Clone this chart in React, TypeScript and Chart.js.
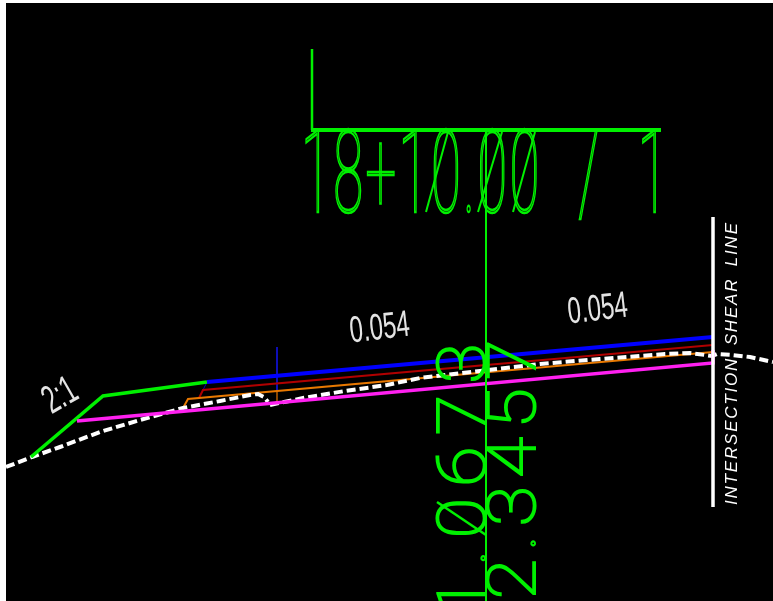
import React, { useEffect, useRef } from "react";
import { Chart, registerables } from "chart.js";

Chart.register(...registerables);

// ---- texts ----
const stationText = "18+10.00 / 1";
const elevationLeftText = "1.0673";
const elevationRightText = "2.3457";
const slopeText = "0.054";
const sideSlopeText = "2:1";
const shearText = "INTERSECTION SHEAR LINE";

// ---- section lines, in drawing units ----
const groundX = [6, 32, 60, 100, 140, 183, 220, 250, 258, 264, 268];
const groundY = [467, 457, 447, 432, 420, 408, 401, 395, 394, 397, 402];
const groundEastX = [270, 303, 345, 387, 420, 480, 540, 600, 665, 690, 705, 712, 717, 732, 750, 773];
const groundEastY = [405, 398, 391, 385, 378, 371, 364, 359, 354, 353, 355, 356, 354, 355, 357, 362];
const magentaX = [77, 713, 713];
const magentaY = [421, 363, 350];
const orangeX = [183, 188, 713];
const orangeY = [408, 399, 352];
const redX = [199, 203, 713];
const redY = [398, 390, 345];
const blueX = [207, 713];
const blueY = [382, 337];
const greenSlopeX = [31, 103, 207];
const greenSlopeY = [457, 396, 382];
const blueTickX = [713, 713];
const blueTickY = [307, 337];
const blueStemX = [277, 277];
const blueStemY = [347, 392];
const orangeStemX = [277, 277];
const orangeStemY = [392, 403];
const blueDropX = [207, 203];
const blueDropY = [382, 390];
const leaderX = [312, 312];
const leaderY = [49, 130];
const ruleX = [311, 661];
const ruleY = [130, 130];
const centerX = [486, 486];
const centerY = [130, 601];
const shearX = [713, 713];
const shearY = [217, 507];
const zeroAX = [426, 448];
const zeroAY = [212, 132];
const zeroBX = [478, 502];
const zeroBY = [212, 132];
const zeroCX = [513, 535];
const zeroCY = [212, 132];
const zeroDX = [437, 486];
const zeroDY = [502, 535];

const pts = (xs: number[], ys: number[]) => xs.map((x, i) => ({ x, y: ys[i] }));

const GREEN = "#00f000";
const line = (xs: number[], ys: number[], color: string, width: number, order: number, dash: number[] = []) => ({
  data: pts(xs, ys),
  borderColor: color,
  borderWidth: width,
  borderDash: dash,
  showLine: true,
  pointRadius: 0,
  tension: 0,
  order,
});

const textPlugin = {
  id: "drawingText",
  afterDatasetsDraw(chart: any) {
    const { ctx, scales } = chart;
    const put = (
      text: string, x: number, y: number, angle: number, sx: number, sy: number,
      font: string, color: string, align: CanvasTextAlign, ls: number, ws: number, stroke: number,
    ) => {
      ctx.save();
      ctx.beginPath();
      ctx.rect(chart.chartArea.left, chart.chartArea.top, chart.chartArea.width, chart.chartArea.height);
      ctx.clip();
      ctx.translate(scales.x.getPixelForValue(x), scales.y.getPixelForValue(y));
      ctx.rotate((angle * Math.PI) / 180);
      ctx.scale(sx, sy);
      ctx.font = font;
      ctx.fillStyle = color;
      ctx.strokeStyle = color;
      ctx.lineWidth = stroke;
      ctx.textAlign = align;
      ctx.textBaseline = "alphabetic";
      ctx.letterSpacing = ls + "px";
      ctx.wordSpacing = ws + "px";
      if (stroke > 0) ctx.strokeText(text, 0, 0);
      else ctx.fillText(text, 0, 0);
      ctx.restore();
    };
    const thin = '100 115px Roboto';
    const thinSmall = '100 67.5px Roboto';
    put(stationText, 301, 212, 0, 0.475, 1, thin, GREEN, "left", 5, 44, 2.5);
    put(elevationLeftText, 485, 332, -90, 1.1, 1, thinSmall, GREEN, "right", 10, 0, 2);
    put(elevationRightText, 535, 331, -90, 1.1, 1, thinSmall, GREEN, "right", 7.5, 0, 2);
    const label = '37px "Liberation Sans"';
    put(slopeText, 381, 339, -6.5, 0.65, 1, label, "#e4e4e4", "center", 0, 0, 0);
    put(slopeText, 599, 320, -6.5, 0.65, 1, label, "#e4e4e4", "center", 0, 0, 0);
    put(sideSlopeText, 66, 406, -30, 0.6, 1, '40px "Liberation Sans"', "#e4e4e4", "center", 0, 0, 0);
    put(shearText, 737, 505, -90, 1, 1, 'italic 17px "Liberation Sans"', "#ffffff", "left", 1.8, 5, 0);
  },
};

export default function App() {
  const ref = useRef<HTMLCanvasElement>(null);
  useEffect(() => {
    const chart = new Chart(ref.current!, {
      type: "scatter",
      data: {
        datasets: [
          line(shearX, shearY, "#ffffff", 3.5, 1),
          line(leaderX, leaderY, GREEN, 2.5, 2),
          line(ruleX, ruleY, GREEN, 4, 2),
          line(centerX, centerY, GREEN, 2, 2),
          line(zeroAX, zeroAY, GREEN, 2, 2),
          line(zeroBX, zeroBY, GREEN, 2, 2),
          line(zeroCX, zeroCY, GREEN, 2, 2),
          line(zeroDX, zeroDY, GREEN, 2.5, 2),
          line(magentaX, magentaY, "#ff20f0", 3.5, 3),
          line(groundX, groundY, "#ffffff", 4, 5, [9, 4]),
          line(groundEastX, groundEastY, "#ffffff", 4, 5, [9, 4]),
          line(orangeX, orangeY, "#e87800", 2, 6),
          line(redX, redY, "#b00000", 2, 6),
          line(blueX, blueY, "#0000ff", 4, 4),
          line(greenSlopeX, greenSlopeY, GREEN, 3.5, 4),
          line(blueTickX, blueTickY, "#2020ff", 1, 7),
          line(blueStemX, blueStemY, "#1010d0", 1, 7),
          line(orangeStemX, orangeStemY, "#a05000", 1, 7),
          line(blueDropX, blueDropY, "#0000c0", 1, 7),
        ],
      },
      options: {
        animation: false,
        responsive: false,
        devicePixelRatio: 1,
        layout: { padding: 0 },
        plugins: { legend: { display: false }, tooltip: { enabled: false }, title: { display: false } },
        scales: {
          x: { type: "linear", min: 6, max: 773, display: false },
          y: { type: "linear", min: 3, max: 601, reverse: true, display: false },
        },
      },
      plugins: [textPlugin],
    } as any);
    return () => chart.destroy();
  }, []);
  return (
    <div style={{ position: "fixed", left: 6, top: 3, width: 767, height: 598, background: "#000" }}>
      <canvas ref={ref} width={767} height={598} style={{ display: "block" }} />
    </div>
  );
}
